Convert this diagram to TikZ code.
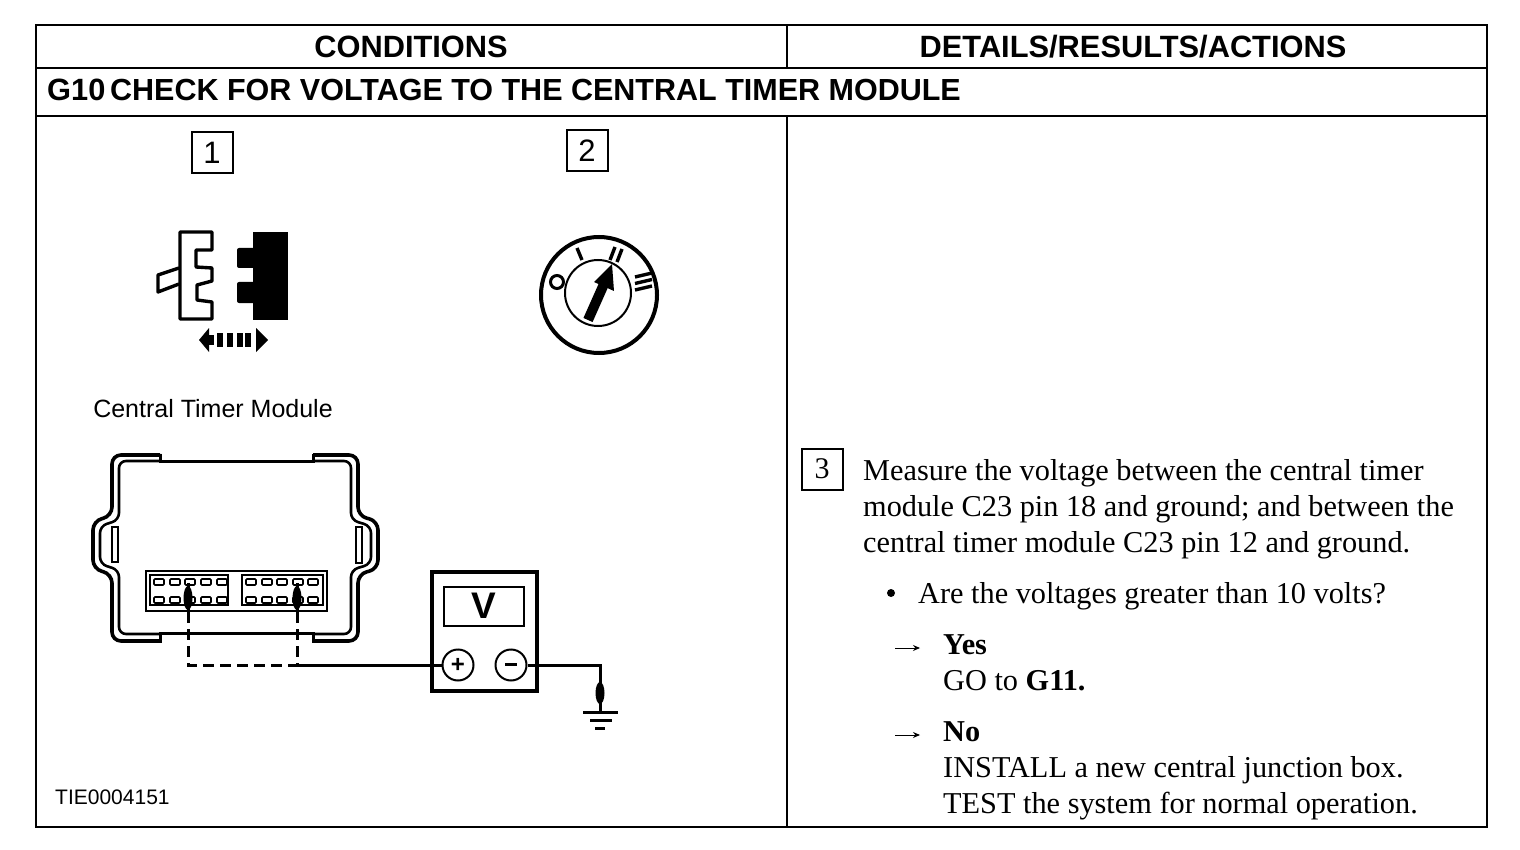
\documentclass[tikz,border=0pt]{standalone}
\usepackage{fontspec}
\setmainfont{Liberation Serif}
\setsansfont{Liberation Sans}
\usetikzlibrary{arrows.meta}
\tikzset{
    frameline/.style={line width=2.7pt, line cap=rect}, % outer table lines
    head/.style={font=\sffamily\bfseries\fontsize{30.8}{32}\selectfont, inner sep=0pt},
    body/.style={font=\fontsize{30.3}{36}\selectfont, inner sep=0pt, anchor=north west, align=left},
    label/.style={font=\sffamily\fontsize{25}{28}\selectfont, inner sep=0pt},
    stepbox/.style={draw, line width=2pt, minimum width=41pt, minimum height=41pt, inner sep=0pt},
    pin/.style={draw, line width=1.6pt, rounded corners=1pt},
    terminal/.style={circle, draw, line width=2pt, minimum size=31pt, inner sep=0pt, font=\sffamily\bfseries\fontsize{24}{24}\selectfont},
    wire/.style={line width=3pt},
    nextarrow/.style={line width=1pt, -{Stealth[length=7pt, width=6pt]}}
}
\begin{document}
\begin{tikzpicture}[x=1pt, y=-1pt]
    \useasboundingbox (0,0) rectangle (1520,850);

    % table
    \draw[frameline] (36,25) rectangle (1487,827);
    \draw[line width=2.6pt] (36,68) -- (1487,68);
    \draw[line width=2.4pt] (36,116) -- (1487,116);
    \draw[line width=2.4pt] (787,25) -- (787,68);
    \draw[line width=2.4pt] (787,116) -- (787,827);
    \node[head] (condhead) at (411,47) {CONDITIONS};
    \node[head] (detailhead) at (1133,47) {DETAILS/RESULTS/ACTIONS};
    \node[head, anchor=west] (gnum) at (47,90) {G10};
    \node[head, anchor=west, font=\sffamily\bfseries\fontsize{30.5}{32}\selectfont] (gtitle) at (110,90) {CHECK FOR VOLTAGE TO THE CENTRAL TIMER MODULE};

    % steps
    \node[stepbox, font=\sffamily\fontsize{31}{31}\selectfont] (stepa) at (212,153) {1};
    \node[stepbox, font=\sffamily\fontsize{31}{31}\selectfont] (stepb) at (587,151) {2};
    \node[stepbox, font=\fontsize{30}{30}\selectfont] (stepc) at (822,469) {\raisebox{-1pt}{3}};

    % plug
    \draw[line width=3.4pt, line join=round] (180,232) -- (212,232) -- (212,250) -- (196,250) -- (196,267) -- (212,268) -- (212,281) -- (197,285) -- (197,300) -- (212,302) -- (212,319) -- (180,319) -- cycle;
    \draw[line width=3.4pt, line join=round] (179,268) -- (158,275) -- (158,292) -- (179,284);
    \fill (253,232) rectangle (288,320);
    \fill[rounded corners=2pt] (237,248) rectangle (255,268);
    \fill[rounded corners=2pt] (237,282) rectangle (255,303);
    \fill (199,340) -- (209,328) -- (209,352) -- cycle;
    \fill (268,340) -- (256,328) -- (256,352) -- cycle;
    \foreach \x in {217,227,237,245} {\fill (\x,333) rectangle (\x+6,347);}
    \fill (209,335) rectangle (214,345);

    % ignition switch
    \draw[line width=4pt] (599,295) circle (58);
    \draw[line width=2pt] (598,293) circle (33);
    \draw[line width=3pt] (557,282) circle (6.5);
    \draw[line width=3.4pt] (577,248) -- (582,260);
    \draw[line width=3.4pt] (615,247) -- (610,260);
    \draw[line width=3.4pt] (622,249) -- (617,262);
    \foreach \y in {0,6.5,13} {\draw[line width=3.4pt] (635,277+\y) -- (652,273+\y);}
    \draw[line width=10pt] (588,320) -- (604,284);
    \fill (612,264) -- (594,282) -- (614,291) -- cycle;

    \node[label] (modname) at (213,409) {Central Timer Module};

    % module housing
    \draw[line width=3.6pt, rounded corners=9pt] (160,455) -- (112,455) -- (112,516) -- (93,521) -- (93,569) -- (112,574) -- (112,641) -- (160,641);
    \draw[line width=3.6pt, rounded corners=9pt] (313,455) -- (358,455) -- (358,516) -- (378,521) -- (378,569) -- (358,574) -- (358,641) -- (313,641);
    \draw[line width=3pt] (160,453.5) -- (160,461) -- (313,461) -- (313,453.5);
    \draw[line width=3pt] (160,642.5) -- (160,633) -- (313,633) -- (313,642.5);
    \draw[line width=2.6pt, rounded corners=7pt] (160,461) -- (119,461) -- (119,520) -- (100,526) -- (100,564) -- (119,570) -- (119,634) -- (160,634);
    \draw[line width=2.6pt, rounded corners=7pt] (313,461) -- (351,461) -- (351,520) -- (371,526) -- (371,564) -- (351,570) -- (351,634) -- (313,634);
    \draw[line width=1.8pt] (112,527) rectangle (118,562);
    \draw[line width=1.8pt] (356,527) rectangle (362,563);

    % connector block
    \draw[line width=2pt] (146,571) rectangle (327,611);
    \draw[line width=2pt] (150,575) rectangle (228,605);
    \draw[line width=2pt] (242,575) rectangle (323,605);
    \foreach \x in {154,170,185,201,217,246,262,277,293,308} {
        \draw[pin] (\x,579) rectangle (\x+10,585);
        \draw[pin] (\x,597) rectangle (\x+10,603);
    }

    % meter
    \draw[line width=4pt] (432,572) rectangle (537,691);
    \draw[line width=2pt] (444,587) rectangle (524,626);
    \node[font=\sffamily\bfseries\fontsize{37}{37}\selectfont, inner sep=0pt] (vlabel) at (484,606) {V};
    \node[terminal] (plus) at (458,665) {+};
    \node[terminal] (minus) at (511,665) {\raisebox{1pt}{\rule{12pt}{2.6pt}}};

    % wires
    \coordinate (pina) at (188,583);
    \coordinate (pinb) at (297,583);
    \coordinate (pinaout) at (188,612);
    \coordinate (pinbout) at (297,612);
    \coordinate (corner) at (188,665);
    \coordinate (tee) at (297,665);
    \coordinate (gndtop) at (600,665);
    \coordinate (gnd) at (600,712);
    \draw[line width=3pt] (pina) -- (pinaout);
    \draw[line width=3pt] (pinb) -- (pinbout);
    \fill (188,598) ellipse (4.5 and 12);
    \fill (297,598) ellipse (4.5 and 12);
    \draw[wire, dash pattern=on 11pt off 6pt] (pinaout) -- (corner) -- (tee);
    \draw[wire, dash pattern=on 11pt off 6pt] (pinbout) -- (tee);
    \draw[wire] (tee) -- (plus);
    \draw[wire] (minus) -- (gndtop) -- (gnd);
    \fill (600,693) ellipse (4.5 and 11);
    \draw[wire] (583,712) -- (618,712);
    \draw[wire] (590,720) -- (612,720);
    \draw[wire] (595,728) -- (605,728);

    \node[label, font=\sffamily\fontsize{21}{24}\selectfont, anchor=west] (figid) at (55,797) {TIE0004151};

    % text column
    \node[body] (measure) at (863,459) {Measure the voltage between the central timer\\module C23 pin 18 and ground; and between the\\central timer module C23 pin 12 and ground.};
    \node[circle, fill, minimum size=8pt, inner sep=0pt] (bullet) at (891,593) {};
    \node[body] (question) at (918,582) {Are the voltages greater than 10 volts?};
    \node[body] (yes) at (943,634) {\textbf{Yes}\\GO to \textbf{G11.}};
    \node[body] (no) at (943,721) {\textbf{No}\\INSTALL a new central junction box.\\TEST the system for normal operation.};
    \coordinate (yesarrow) at (895,648);
    \coordinate (noarrow) at (895,735);
    \draw[nextarrow] (yesarrow) -- ++(25,0);
    \draw[nextarrow] (noarrow) -- ++(25,0);
\end{tikzpicture}
\end{document}
